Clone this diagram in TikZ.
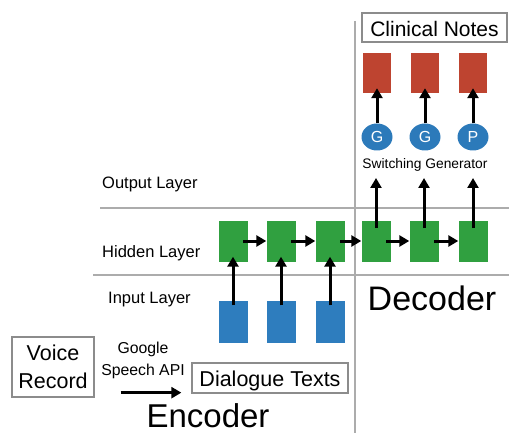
\documentclass[tikz,border=0pt]{standalone}
\usepackage{fontspec}
\setmainfont{Liberation Sans}
\usetikzlibrary{arrows.meta,shapes.geometric,calc}
\definecolor{cellgreen}{RGB}{48,160,64}
\definecolor{cellred}{RGB}{190,68,48}
\definecolor{cellblue}{RGB}{46,125,190}
\definecolor{genblue}{RGB}{44,122,186}
\definecolor{rulegray}{RGB}{172,172,172}
\definecolor{framegray}{RGB}{140,140,140}
\tikzset{
  hidcell/.style={fill=cellgreen,draw=none,minimum width=29pt,minimum height=41pt,inner sep=0pt},
  incell/.style={fill=cellblue,draw=none,minimum width=29pt,minimum height=42pt,inner sep=0pt},
  outcell/.style={fill=cellred,draw=none,minimum width=28pt,minimum height=40pt,inner sep=0pt},
  gen/.style={ellipse,fill=genblue,draw=none,minimum width=31pt,minimum height=27pt,inner sep=0pt,
    text=white,font=\fontsize{16}{18}\selectfont},
  framed/.style={draw=framegray,line width=1.3pt,inner sep=0pt},
  arr/.style={line width=3pt,-{Triangle[width=11pt,length=10pt]}},
  rule/.style={draw=rulegray,line width=1.5pt},
  layerlabel/.style={anchor=base west,inner sep=0pt,font=\fontsize{16.5}{18}\selectfont},
  biglabel/.style={anchor=base,inner sep=0pt,font=\fontsize{33}{36}\selectfont},
}
\begin{document}
\begin{tikzpicture}[x=1pt,y=-1pt]
\useasboundingbox (0,0) rectangle (509,433);

% separators between layers and between encoder and decoder
\draw[rule] (100,208) -- (509,208);
\draw[rule] (93,275) -- (509,275);
\draw[rule] (355,21) -- (355,433);

% layer names
\node[layerlabel] (lout) at (102,189) {Output Layer};
\node[layerlabel] (lhid) at (102,257) {Hidden Layer};
\node[layerlabel] (lin)  at (108,303) {Input Layer};

% hidden states
\node[hidcell] (h1) at (233,241) {};
\node[hidcell] (h2) at (281,241) {};
\node[hidcell] (h3) at (330,241) {};
\node[hidcell] (h4) at (376,241) {};
\node[hidcell] (h5) at (424,241) {};
\node[hidcell] (h6) at (473,241) {};

% encoder inputs
\node[incell] (i1) at (233,321.5) {};
\node[incell] (i2) at (281,321.5) {};
\node[incell] (i3) at (330,321.5) {};

% generator switches and generated tokens
\node[gen] (s1) at (377,137) {G};
\node[gen] (s2) at (425,137) {G};
\node[gen] (s3) at (473,137) {P};
\node[outcell] (o1) at (377,73) {};
\node[outcell] (o2) at (425,73) {};
\node[outcell] (o3) at (473,73) {};

\node[anchor=base,inner sep=0pt,font=\fontsize{13.8}{16}\selectfont] (sw) at (425,168) {Switching Generator};
\node[framed,minimum width=145pt,minimum height=29pt,text height=19pt,text depth=0pt,
  font=\fontsize{21}{24}\selectfont] (cn) at (434.5,27.5) {Clinical Notes};

% inputs to hidden states
\foreach \i/\h in {i1/h1,i2/h2,i3/h3}
  \draw[arr] ($(\i.north)+(0,5)$) -- ($(\h.south)+(0,-5)$);
% recurrence
\foreach \a/\b in {h1/h2,h2/h3,h3/h4,h4/h5,h5/h6}
  \draw[arr] ($(\a.center)+(10,0)$) -- (\b.west);
% decoder states to the switching generator
\foreach \h in {h4,h5,h6}
  \draw[arr] ($(\h.center)+(0,-13)$) -- ($(\h.center)+(0,-63)$);
% generator to output tokens
\foreach \s/\o in {s1/o1,s2/o2,s3/o3}
  \draw[arr] (\s.north) -- ($(\o.south)+(0,-5)$);

\node[biglabel,font=\fontsize{34}{36}\selectfont] (dec) at (432,310) {Decoder};
\node[biglabel] (enc) at (208,427) {Encoder};

% speech-to-text front end
\node[framed,minimum width=82pt,minimum height=60pt,align=center,
  font=\fontsize{21.5}{28}\selectfont] (vr) at (53,367) {Voice\\Record};
\node[framed,minimum width=156pt,minimum height=30pt,text height=16pt,text depth=0pt,
  font=\fontsize{21.5}{24}\selectfont] (dt) at (270,378) {Dialogue Texts};
\node[anchor=base,inner sep=0pt,align=center,font=\fontsize{15.8}{22}\selectfont] (api) at (143,375) {Google\\Speech API};
\draw[arr] ($(vr.east |- dt.south)+(26,-1)$) -- ($(dt.south west)+(-10,-1)$);
\end{tikzpicture}
\end{document}
